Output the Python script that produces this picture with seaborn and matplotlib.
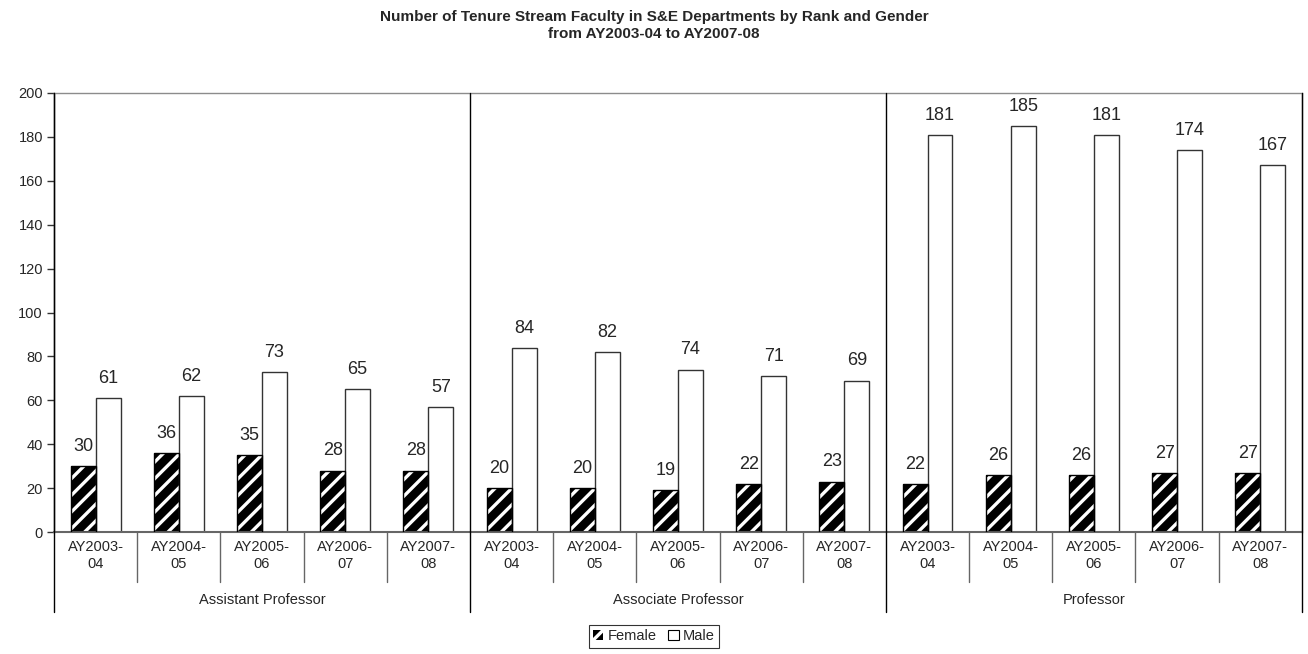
import numpy as np
import pandas as pd
import matplotlib
matplotlib.use("Agg")
import matplotlib.pyplot as plt
import matplotlib.transforms as mtransforms
from matplotlib.patches import Patch
import seaborn as sns

sns.set_style("white")
plt.rcParams["font.family"] = ["Liberation Sans", "DejaVu Sans"]
plt.rcParams["hatch.linewidth"] = 2.4
plt.rcParams["hatch.color"] = "white"

ranks = ["Assistant Professor", "Associate Professor", "Professor"]
years = ["AY2003-04", "AY2004-05", "AY2005-06", "AY2006-07", "AY2007-08"]
female = [30, 36, 35, 28, 28,
          20, 20, 19, 22, 23,
          22, 26, 26, 27, 27]
male = [61, 62, 73, 65, 57,
        84, 82, 74, 71, 69,
        181, 185, 181, 174, 167]

slots = [f"{r}|{y}" for r in ranks for y in years]
df = pd.DataFrame({
    "slot": slots * 2,
    "gender": ["Female"] * len(slots) + ["Male"] * len(slots),
    "value": female + male,
})

fig = plt.figure(figsize=(13.08, 6.54), dpi=100)
ax = fig.add_axes([0.0413, 0.1865, 0.954, 0.6713])

sns.barplot(data=df, x="slot", y="value", hue="gender", order=slots,
            hue_order=["Female", "Male"], width=0.6, ax=ax,
            palette={"Female": "black", "Male": "white"}, legend=False,
            errorbar=None)

# style bars: hatched female, outlined male
for container, g in zip(ax.containers, ["Female", "Male"]):
    for bar in container:
        if g == "Female":
            bar.set_facecolor("black")
            bar.set_hatch("//")
            bar.set_edgecolor("white")
            bar.set_linewidth(0)
            x0, y0 = bar.get_xy()
            ax.add_patch(plt.Rectangle((x0, y0), bar.get_width(), bar.get_height(),
                                       fill=False, edgecolor="black", linewidth=1.0, zorder=3))
        else:
            bar.set_facecolor("white")
            bar.set_edgecolor("#333333")
            bar.set_linewidth(1.0)
    ax.bar_label(container, padding=8, fontsize=13)

ax.set_xlim(-0.5, len(slots) - 0.5)
ax.set_ylim(0, 200)
ax.set_yticks(np.arange(0, 201, 20))
ax.tick_params(axis="y", labelsize=10.5, length=5, width=1, direction="out", left=True, color="#333333", pad=3)
ax.set_xticks(range(len(slots)))
ax.set_xticklabels([y[:7] + "\n" + y[7:] for r in ranks for y in years], fontsize=10.5, linespacing=1.25)
ax.tick_params(axis="x", length=0, pad=6)
ax.set_xlabel("")
ax.set_ylabel("")

for s in ["top", "right"]:
    ax.spines[s].set_color("#8c8c8c")
    ax.spines[s].set_linewidth(1.0)
ax.spines["left"].set_color("#333333")
ax.spines["bottom"].set_color("#666666")
ax.spines["left"].set_linewidth(1.0)
ax.spines["bottom"].set_linewidth(1.5)

trans = mtransforms.blended_transform_factory(ax.transData, ax.transAxes)
# tick separators below the axis
for i in range(len(slots) + 1):
    xb = i - 0.5
    if i % len(years) == 0:
        ax.plot([xb, xb], [1.0, -0.183], transform=trans, color="black", lw=1.0, clip_on=False, zorder=5)
    else:
        ax.plot([xb, xb], [0, -0.114], transform=trans, color="#666666", lw=1.0, clip_on=False)

for k, r in enumerate(ranks):
    xc = k * len(years) + (len(years) - 1) / 2
    ax.text(xc, -0.155, r, transform=trans, ha="center", va="center", fontsize=10.5)

fig.suptitle("Number of Tenure Stream Faculty in S&E Departments by Rank and Gender\nfrom AY2003-04 to AY2007-08",
             fontsize=11, fontweight="bold", y=0.985, linespacing=1.3)

handles = [Patch(facecolor="black", edgecolor="white", hatch="//", linewidth=0),
           Patch(facecolor="white", edgecolor="black", linewidth=0.8)]
leg = fig.legend(handles, ["Female", "Male"], loc="center", bbox_to_anchor=(0.5, 0.027),
                 ncol=2, fontsize=10.5, frameon=True, fancybox=False, handlelength=0.7,
                 handleheight=0.7, handletextpad=0.3, columnspacing=0.8, borderpad=0.3)
leg.get_frame().set_edgecolor("black")
leg.get_frame().set_linewidth(0.8)

fig.savefig("out.png", dpi=100)
